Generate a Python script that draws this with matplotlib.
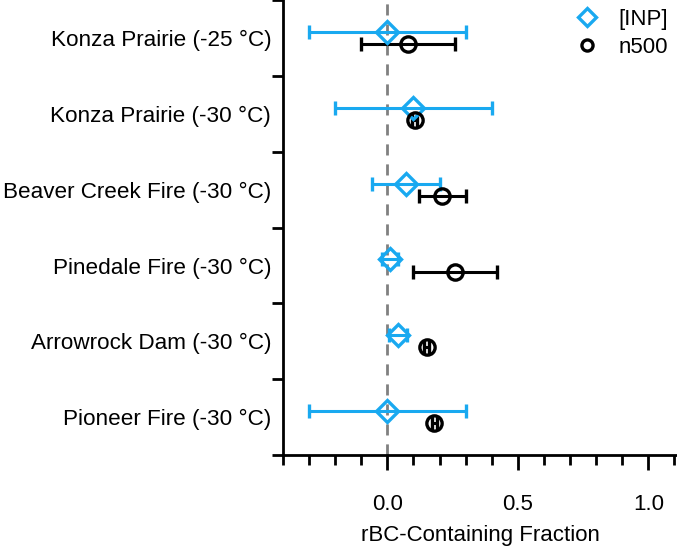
import matplotlib
matplotlib.use("Agg")
import matplotlib.pyplot as plt
from matplotlib.lines import Line2D
from matplotlib.ticker import MultipleLocator

plt.rcParams['font.family'] = ['Liberation Sans', 'DejaVu Sans']

sites = ["Konza Prairie (-25 °C)", "Konza Prairie (-30 °C)", "Beaver Creek Fire (-30 °C)",
         "Pinedale Fire (-30 °C)", "Arrowrock Dam (-30 °C)", "Pioneer Fire (-30 °C)"]

inp_val = [0.0, 0.10, 0.07, 0.01, 0.04, 0.0]
inp_err = [0.30, 0.30, 0.13, 0.03, 0.035, 0.30]

n500_val = [0.08, 0.105, 0.21, 0.26, 0.15, 0.18]
n500_err = [0.18, 0.01, 0.09, 0.16, 0.01, 0.01]

BLUE = "#19a9f0"

fig = plt.figure(figsize=(6.77, 5.51), dpi=100)
ax = fig.add_axes([0.418, 0.174, 0.582, 0.826])

n = len(sites)
ypos = [n - 1 - i for i in range(n)]
off = 0.08

ax.axvline(0, color="#808080", lw=2, ls=(0, (4, 3.2)), zorder=0)

ax.errorbar(inp_val, [y + off for y in ypos], xerr=inp_err, fmt="D", ms=11,
            mfc="none", mec=BLUE, mew=2.4, ecolor=BLUE, elinewidth=2.2,
            capsize=5, capthick=2.2)
ax.errorbar(n500_val, [y - off for y in ypos], xerr=n500_err, fmt="o", ms=11,
            mfc="none", mec="black", mew=2.4, ecolor="black", elinewidth=2.2,
            capsize=5, capthick=2.2)

ax.set_xlim(-0.4, 1.11)
ax.set_ylim(-0.5, n - 0.5)
ax.set_xticks([0.0, 0.5, 1.0])
ax.set_xticklabels(["0.0", "0.5", "1.0"])
ax.xaxis.set_minor_locator(MultipleLocator(0.1))
ax.tick_params(axis="x", which="major", length=11, width=2, labelsize=16, pad=17)
ax.tick_params(axis="x", which="minor", length=7, width=2)

ax.set_yticks(ypos)
ax.set_yticklabels(sites)
ax.set_yticks([i + 0.5 for i in range(-1, n)], minor=True)
ax.tick_params(axis="y", which="major", length=0, labelsize=16.2, pad=8.5)
ax.tick_params(axis="y", which="minor", length=8, width=2)

ax.set_xlabel("rBC-Containing Fraction", fontsize=16, labelpad=7)

for s in ["top", "right"]:
    ax.spines[s].set_visible(False)
for s in ["left", "bottom"]:
    ax.spines[s].set_linewidth(2)

handles = [Line2D([], [], ls="none", marker="D", ms=9.5, mfc="none", mec=BLUE, mew=2.4),
           Line2D([], [], ls="none", marker="o", ms=8, mfc="none", mec="black", mew=2.4)]
ax.legend(handles, ["[INP]", "n500"], loc="upper right", frameon=False, fontsize=16,
          handlelength=1.0, handletextpad=0.9, borderaxespad=0.0, labelspacing=0.33,
          bbox_to_anchor=(1.0, 1.0))

fig.savefig("out.png", dpi=100)
